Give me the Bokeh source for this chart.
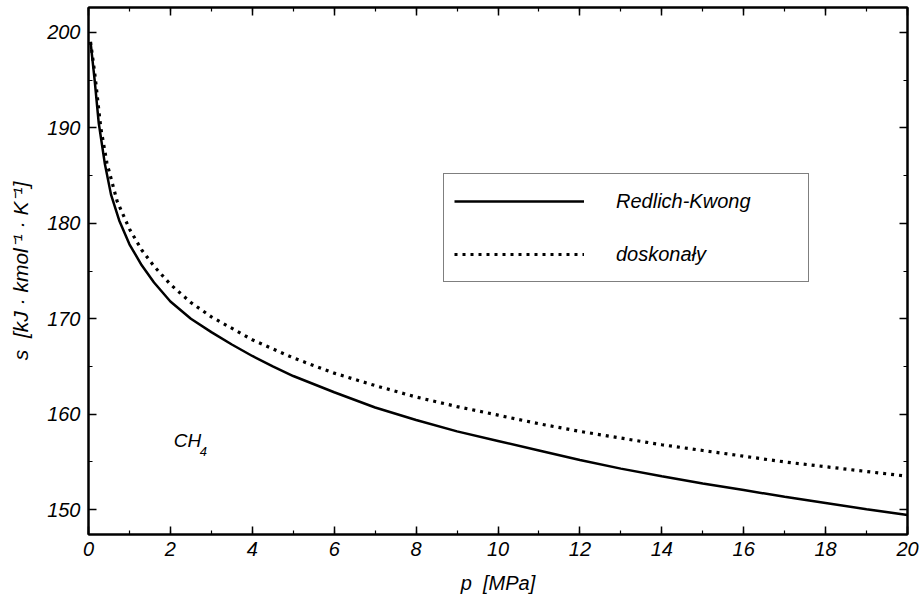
from bokeh.plotting import figure
from bokeh.models import (Range1d, LinearAxis, SingleIntervalTicker, Legend, LegendItem,
                          Label, ColumnDataSource, CustomLabelingPolicy)
from bokeh.embed import file_html
from bokeh.resources import INLINE

# ---- data ----
p_rk = [0.05, 0.15, 0.25, 0.4, 0.55, 0.75, 1.0, 1.3, 1.6, 2.0, 2.5, 3.0, 3.5, 4.0, 4.5, 5.0,
        6.0, 7.0, 8.0, 9.0, 10.0, 11.0, 12.0, 13.0, 14.0, 15.0, 16.0, 17.0, 18.0, 19.0, 20.0]
s_rk = [199.0, 195.0, 190.5, 186.2, 183.0, 180.3, 177.8, 175.6, 173.8, 171.8, 170.0, 168.6,
        167.3, 166.1, 165.0, 164.0, 162.3, 160.7, 159.4, 158.2, 157.2, 156.2, 155.2, 154.3,
        153.5, 152.75, 152.05, 151.35, 150.7, 150.05, 149.45]

p_id = [0.05, 0.15, 0.3, 0.45, 0.7, 1.0, 1.3, 1.6, 2.0, 2.5, 3.0, 4.0, 5.0, 6.0, 7.0,
        8.0, 9.0, 10.0, 11.0, 12.0, 13.0, 14.0, 15.0, 16.0, 17.0, 18.0, 19.0, 20.0]
s_id = [199.0, 195.8, 190.0, 186.3, 182.3, 179.4, 177.2, 175.5, 173.6, 171.7, 170.2, 167.8,
        165.9, 164.3, 163.0, 161.8, 160.8, 159.9, 159.0, 158.2, 157.5, 156.8, 156.2, 155.6,
        155.0, 154.5, 154.0, 153.5]

series_names = ["Redlich-Kwong", "doskonały"]
x_label = "p\u00a0\u00a0[MPa]"
y_label = "s\u00a0\u00a0[kJ\u00a0·\u00a0kmol⁻¹\u00a0·\u00a0K⁻¹]"
gas_label = "CH"
gas_sub = "4"

FONT = "Liberation Sans"

p = figure(frame_width=819, frame_height=527,
           min_border_left=88, min_border_right=15, min_border_top=7, min_border_bottom=61,
           x_range=Range1d(0, 20), y_range=Range1d(147.4, 202.6),
           output_backend="svg", toolbar_location=None,
           x_axis_location=None, y_axis_location=None)
p.background_fill_color = "white"
p.border_fill_color = "white"
p.outline_line_color = "black"
p.outline_line_width = 2
p.xgrid.visible = False
p.ygrid.visible = False

hide_all = CustomLabelingPolicy(code="""
try { const all = [...indices]; for (const i of all) { indices.unset(i) } } catch (e) {}
return indices
""")

def make_axis(interval, labels=True):
    ax = LinearAxis(ticker=SingleIntervalTicker(interval=interval, num_minor_ticks=2))
    ax.axis_line_color = "black"
    ax.axis_line_width = 2
    ax.major_tick_in = 8
    ax.major_tick_out = 0
    ax.minor_tick_in = 4
    ax.minor_tick_out = 0
    ax.major_tick_line_width = 1.5
    ax.minor_tick_line_width = 1.2
    if labels:
        ax.major_label_text_font = FONT
        ax.major_label_text_font_style = "italic"
        ax.major_label_text_font_size = "20px"
        ax.major_label_text_color = "black"
        ax.axis_label_text_font = FONT
        ax.axis_label_text_font_style = "italic"
        ax.axis_label_text_font_size = "20px"
        ax.axis_label_text_color = "black"
    else:
        ax.major_label_policy = hide_all
        ax.major_label_text_font_size = "1px"
        ax.major_label_standoff = 0
        ax.axis_label = None
    return ax

xb = make_axis(2)
xb.axis_label = x_label
xb.major_label_standoff = 7
xb.axis_label_standoff = 13
p.add_layout(xb, "below")

yl = make_axis(10)
yl.axis_label = y_label
yl.axis_label_text_font_size = "21px"
yl.major_label_standoff = 8
yl.axis_label_standoff = 12
p.add_layout(yl, "left")

xt = make_axis(2, labels=False)
p.add_layout(xt, "above")
yr = make_axis(10, labels=False)
p.add_layout(yr, "right")

src_rk = ColumnDataSource(dict(p=p_rk, s=s_rk))
src_id = ColumnDataSource(dict(p=p_id, s=s_id))
r_rk = p.line("p", "s", source=src_rk, line_color="black", line_width=2.5)
r_id = p.line("p", "s", source=src_id, line_color="black", line_width=3.2,
              line_dash="3 5")

legend = Legend(items=[LegendItem(label=series_names[0], renderers=[r_rk]),
                       LegendItem(label=series_names[1], renderers=[r_id])],
                location=(355, 252), orientation="vertical",
                glyph_width=130, glyph_height=34, label_height=34, label_width=182,
                label_standoff=32, spacing=19, padding=10, margin=0,
                border_line_color="black", border_line_width=1.5,
                background_fill_color="white", background_fill_alpha=1,
                label_text_font=FONT, label_text_font_style="italic",
                label_text_font_size="20px", label_text_color="black")
p.add_layout(legend, "center")

p.add_layout(Label(x=2.08, y=156.1, text=gas_label, text_font=FONT,
                   text_font_style="italic", text_font_size="19px", text_color="black"))
p.add_layout(Label(x=2.08, y=156.1, x_offset=26, y_offset=-5, text=gas_sub, text_font=FONT,
                   text_font_style="italic", text_font_size="13px", text_color="black"))

open("out.html", "w").write(file_html(p, INLINE))
